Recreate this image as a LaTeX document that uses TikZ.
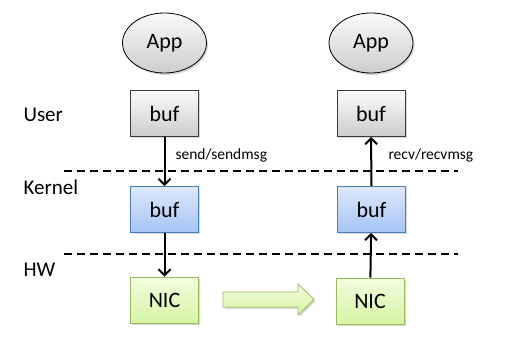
\documentclass[tikz,border=0pt]{standalone}
\usepackage{fontspec}
\setmainfont{Carlito}
\usetikzlibrary{shapes.geometric,shadows,arrows.meta}

\definecolor{grayline}{HTML}{3A3A3A}
\definecolor{graytop}{HTML}{FAFAFA}
\definecolor{graybot}{HTML}{CDCDCD}
\definecolor{bluetop}{HTML}{DEE9FC}
\definecolor{bluebot}{HTML}{A5C3F5}
\definecolor{blueline}{HTML}{4A7EBB}
\definecolor{greentop}{HTML}{F3FCDF}
\definecolor{greenbot}{HTML}{D5F5A2}
\definecolor{greenline}{HTML}{9BBB59}

\tikzset{
  shade box/.style={drop shadow={shadow xshift=1.5pt, shadow yshift=-2pt, opacity=0.3}},
  appnode/.style={ellipse, draw=black, line width=0.8pt, top color=graytop, bottom color=graybot,
    minimum width=84pt, minimum height=60pt, inner sep=0pt, font=\fontsize{22}{26}\selectfont, shade box},
  userbuf/.style={draw=grayline, line width=0.8pt, top color=graytop, bottom color=graybot,
    minimum width=68pt, minimum height=46pt, inner sep=0pt, font=\fontsize{22}{26}\selectfont, shade box},
  kernbuf/.style={userbuf, draw=blueline, top color=bluetop, bottom color=bluebot},
  nicbox/.style={userbuf, draw=greenline, top color=greentop, bottom color=greenbot},
  layer/.style={anchor=west, font=\fontsize{21}{25}\selectfont},
  call/.style={anchor=west, font=\fontsize{15.5}{18}\selectfont},
  flow/.style={line width=2pt, -{Straight Barb[length=6pt, width=12pt, line width=2pt]}},
  sep/.style={line width=1.5pt, dash pattern=on 8pt off 5pt}
}

\begin{document}
\begin{tikzpicture}[x=1pt, y=-1pt]
	\useasboundingbox (0,0) rectangle (511,347);
	% layer borders
	\draw[sep] (64,171) -- (458,171);
	\draw[sep] (64,254) -- (458,254);
	\node[layer] (user) at (20,115) {User};
	\node[layer] (kernel) at (20,187) {Kernel};
	\node[layer] (hw) at (20,270) {HW};
	% sender
	\node[appnode] (app1) at (164.5,43) {App};
	\node[userbuf] (ubuf1) at (164.5,113.5) {buf};
	\node[kernbuf] (kbuf1) at (164.5,209.5) {buf};
	\node[nicbox] (nic1) at (164.5,300) {NIC};
	% receiver
	\node[appnode] (app2) at (371,43) {App};
	\node[userbuf] (ubuf2) at (371,113.5) {buf};
	\node[kernbuf] (kbuf2) at (371.5,209.5) {buf};
	\node[nicbox] (nic2) at (370,301) {NIC};
	% calls
	\draw[flow] (ubuf1) -- (kbuf1);
	\draw[flow] (kbuf1) -- (nic1);
	\draw[flow] (nic2) -- (kbuf2);
	\draw[flow] (kbuf2) -- (ubuf2);
	\node[call] (send) at (172,155) {send/sendmsg};
	\node[call] (recv) at (385,155) {recv/recvmsg};
	% wire
	\path[draw=greenline, line width=0.8pt, top color=greentop, bottom color=greenbot, shade box]
		(223,292) -- (298,292) -- (298,284) -- (314,299.5) -- (298,315) -- (298,307) -- (223,307) -- cycle;
\end{tikzpicture}
\end{document}
